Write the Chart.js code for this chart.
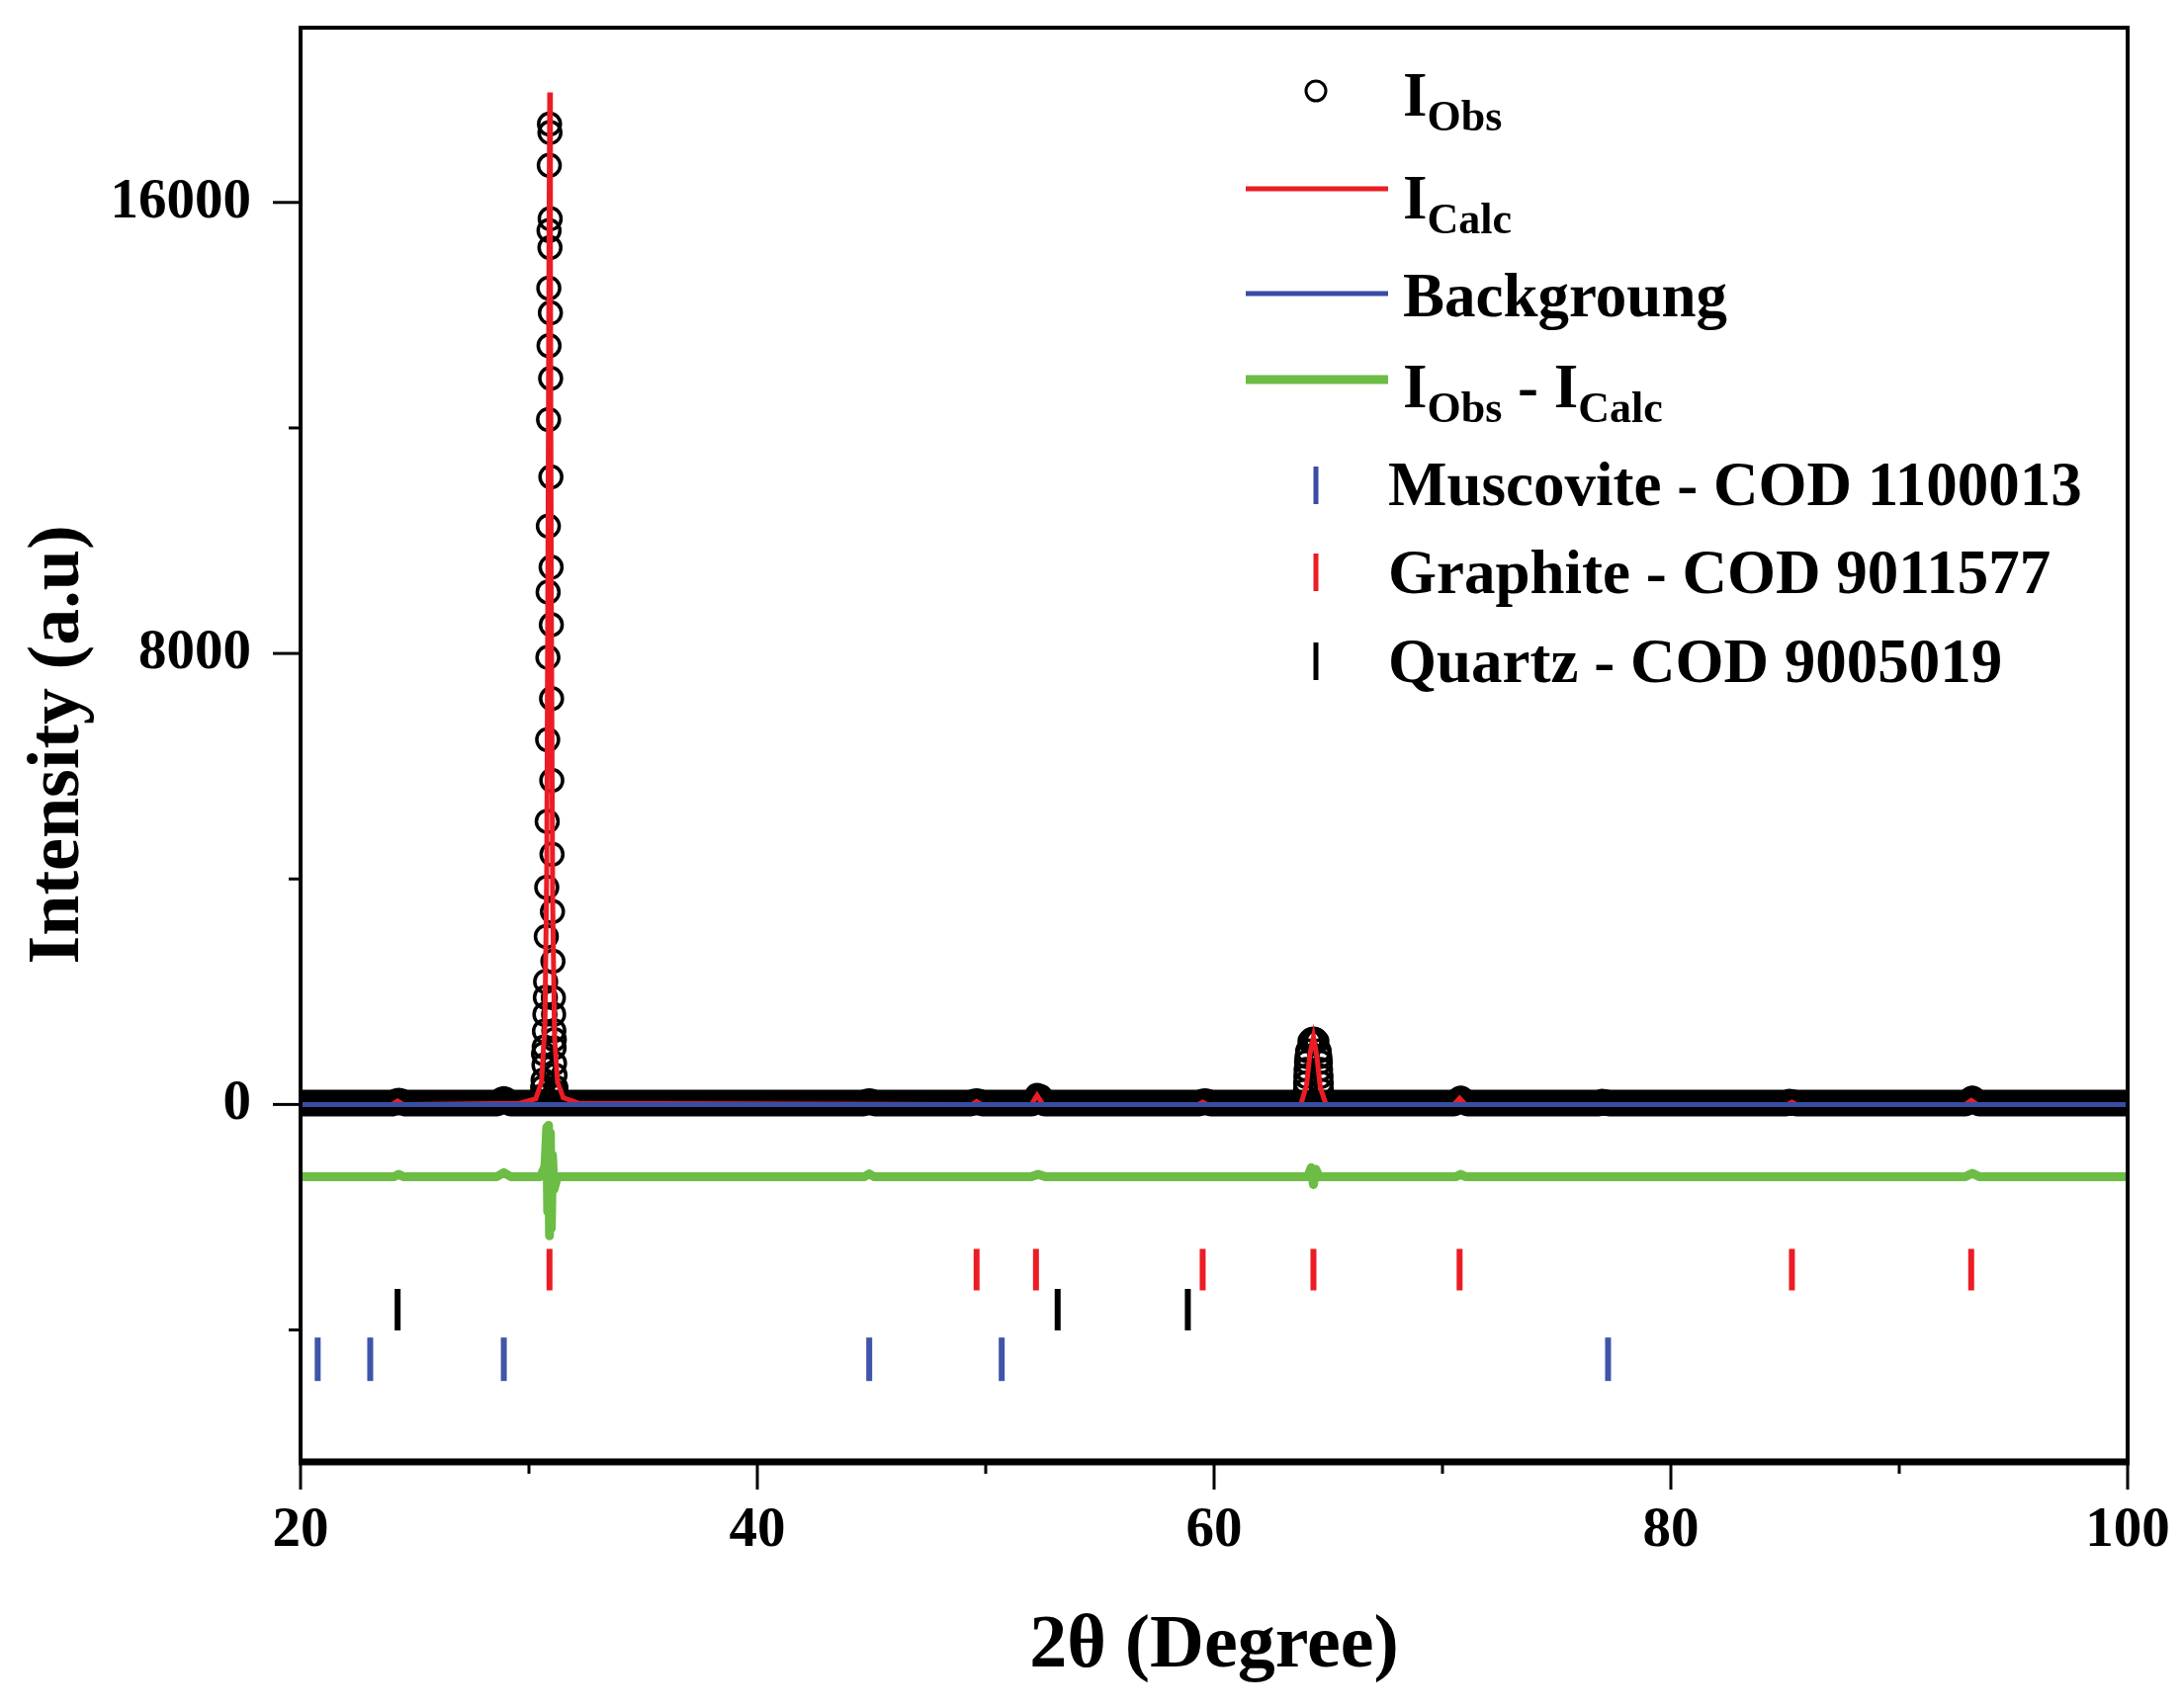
<!DOCTYPE html>
<html>
<head>
<meta charset="utf-8">
<script src="https://cdn.jsdelivr.net/npm/chart.js@4.4.1/dist/chart.umd.min.js"></script>
<style>
  html, body { margin: 0; padding: 0; background: #fff; }
  #wrap { width: 2208px; height: 1728px; }
</style>
</head>
<body>
<div id="wrap"><canvas id="xrd" width="2208" height="1728"></canvas></div>
<script>
// --- Data ---
const xTickValues = [20, 30, 40, 50, 60, 70, 80, 90, 100];
const xTickLabels = ['20', '', '40', '', '60', '', '80', '', '100'];
const yTickValues = [-4000, 0, 4000, 8000, 12000, 16000];
const yTickLabels = ['', '0', '', '8000', '', '16000'];

// observed points (circles) on the peaks
const obsTheta = [30.90, 30.92, 30.89, 30.93, 30.88, 30.92, 30.87, 30.94, 30.88, 30.95, 30.86, 30.96,
  30.85, 30.97, 30.84, 30.98, 30.83, 30.99, 30.82, 31.00, 30.80, 31.01, 30.78, 31.03, 30.76, 31.05,
  30.73, 31.07, 30.70, 31.09, 30.67, 31.12, 30.62, 31.16, 30.66, 31.10,
  30.60, 30.64, 30.68, 30.72, 31.08, 31.11, 31.14, 31.18, 30.58, 31.20,
  64.00, 64.02, 64.05, 64.10, 64.20, 64.35, 64.50, 64.60, 64.65, 64.68, 64.70,
  64.01, 64.03, 64.07, 64.63, 64.66, 64.69, 64.28, 64.42,
  52.25, 52.40, 70.80, 93.20];
const obsCounts = [17390, 17240, 16660, 15710, 15500, 15200, 14480, 14040, 13460, 12880, 12150, 11130,
  10260, 9530, 9090, 8510, 7930, 7200, 6470, 5750, 5020, 4440, 3850, 3420, 2980, 2540,
  2180, 1890, 1600, 1310, 1020, 730, 430, 220, 700, 1000,
  300, 900, 1300, 1900, 1600, 1150, 520, 300, 150, 150,
  250, 500, 750, 950, 1120, 1160, 1120, 950, 750, 500, 250,
  380, 620, 850, 850, 620, 380, 1150, 1150,
  160, 140, 110, 110];

// dense observed baseline (overlapping circles form a band)
const obsBaseTheta = [20, 24.0, 24.3, 24.6, 28.6, 28.9, 29.2, 44.6, 44.9, 45.2, 49.3, 49.6, 49.9,
  52.0, 52.3, 52.6, 59.3, 59.6, 59.9, 70.5, 70.8, 71.1, 76.8, 77.0, 77.3, 85.0, 85.2, 85.5,
  92.9, 93.2, 93.5, 100];
const obsBaseCounts = [25, 25, 60, 25, 25, 90, 25, 25, 50, 25, 25, 50, 25,
  25, 130, 25, 25, 50, 25, 25, 90, 25, 25, 40, 25, 25, 40, 25,
  25, 90, 25, 25];

// calculated profile
const calcTheta = [20, 24.0, 24.25, 24.5, 29.6, 30.3, 30.55, 30.7, 30.78, 30.84, 30.88, 30.91, 30.94,
  30.98, 31.04, 31.12, 31.25, 31.5, 32.2, 49.4, 49.6, 49.8, 52.0, 52.25, 52.5, 59.3, 59.5, 59.7,
  63.8, 64.05, 64.2, 64.35, 64.5, 64.65, 64.9, 70.5, 70.75, 71.0, 85.1, 85.3, 85.5, 92.9, 93.15, 93.4, 100];
const calcCounts = [0, 0, 60, 0, 20, 100, 400, 1400, 4200, 10500, 15500, 17950, 15000,
  9000, 3600, 1200, 400, 120, 20, 0, 50, 0, 0, 160, 0, 0, 40, 0,
  0, 350, 900, 1200, 850, 300, 0, 0, 110, 0, 0, 40, 0, 0, 70, 0, 0];

// background
const bgTheta = [20, 100];
const bgCounts = [0, 0];

// difference curve (shifted)
const diffTheta = [20, 24.1, 24.3, 24.5, 28.6, 28.9, 29.2, 30.5, 30.7, 30.78, 30.82, 30.86, 30.9,
  30.94, 30.98, 31.03, 31.1, 31.25, 44.7, 44.9, 45.1, 52.0, 52.3, 52.6, 64.1, 64.25, 64.35, 64.45, 64.6,
  70.6, 70.8, 71.0, 92.9, 93.2, 93.5, 100];
const diffCounts = [-1280, -1280, -1240, -1280, -1280, -1210, -1280, -1280, -1100, -400, -1900, -370, -2330,
  -500, -2200, -900, -1500, -1280, -1280, -1230, -1280, -1280, -1240, -1280, -1280, -1120, -1420, -1150, -1280,
  -1280, -1240, -1280, -1280, -1220, -1280, -1280];

// reflection positions of each phase
const graphiteTheta = [30.9, 49.6, 52.2, 59.5, 64.35, 70.75, 85.3, 93.15];
const quartzTheta = [24.25, 53.15, 58.85];
const muscoviteTheta = [20.75, 23.05, 28.9, 44.9, 50.7, 77.25];
const graphiteRow = -2930;
const quartzRow = -3640;
const muscoviteRow = -4520;

// --- helpers ---
const pairs = (xs, ys) => xs.map((v, i) => ({ x: v, y: ys[i] }));
const row = (xs, level) => xs.map(v => ({ x: v, y: level }));

const SERIF = '"Liberation Serif", "Times New Roman", serif';
const RED = '#ec1c24';
const BLUE = '#3a4ca3';
const GREEN = '#6cbd45';

// Frame, tick marks and the legend (with subscripts)
const decorations = {
  id: 'decorations',
  afterDraw(chart) {
    const { ctx, chartArea: a, scales: { x, y } } = chart;
    ctx.save();
    ctx.strokeStyle = '#000';
    ctx.lineCap = 'butt';

    // tick marks, outward
    ctx.lineWidth = 3;
    xTickValues.forEach((v, i) => {
      const px = x.getPixelForValue(v);
      const len = xTickLabels[i] ? 28 : 12;
      ctx.beginPath(); ctx.moveTo(px, a.bottom); ctx.lineTo(px, a.bottom + len); ctx.stroke();
    });
    yTickValues.forEach((v, i) => {
      const py = y.getPixelForValue(v);
      const len = yTickLabels[i] ? 28 : 12;
      ctx.beginPath(); ctx.moveTo(a.left, py); ctx.lineTo(a.left - len, py); ctx.stroke();
    });

    // frame
    ctx.lineWidth = 4;
    ctx.beginPath();
    ctx.moveTo(a.left, a.bottom); ctx.lineTo(a.left, a.top);
    ctx.lineTo(a.right, a.top); ctx.lineTo(a.right, a.bottom);
    ctx.stroke();
    ctx.lineWidth = 7;
    ctx.beginPath(); ctx.moveTo(a.left - 2, a.bottom); ctx.lineTo(a.right + 2, a.bottom); ctx.stroke();

    // legend
    const mainFont = `bold 63px ${SERIF}`;
    const subFont = `bold 44px ${SERIF}`;
    const rich = (px, base, parts) => {
      ctx.fillStyle = '#000';
      ctx.textBaseline = 'alphabetic';
      ctx.textAlign = 'left';
      parts.forEach(([t, sub]) => {
        ctx.font = sub ? subFont : mainFont;
        ctx.fillText(t, px, sub ? base + 15 : base);
        px += ctx.measureText(t).width;
      });
    };
    const seg = (color, w, yy) => {
      ctx.strokeStyle = color; ctx.lineWidth = w;
      ctx.beginPath(); ctx.moveTo(1260, yy); ctx.lineTo(1404, yy); ctx.stroke();
    };
    const tick = (color, yy) => {
      ctx.strokeStyle = color; ctx.lineWidth = 5;
      ctx.beginPath(); ctx.moveTo(1331, yy - 19); ctx.lineTo(1331, yy + 19); ctx.stroke();
    };

    ctx.strokeStyle = '#000'; ctx.lineWidth = 3;
    ctx.beginPath(); ctx.arc(1331, 92, 10, 0, Math.PI * 2); ctx.stroke();
    rich(1419, 117, [['I', false], ['Obs', true]]);

    seg(RED, 5, 191);
    rich(1419, 221, [['I', false], ['Calc', true]]);

    seg(BLUE, 5, 297);
    rich(1419, 320, [['Backgroung', false]]);

    seg(GREEN, 9, 384);
    rich(1419, 412, [['I', false], ['Obs', true], [' - ', false], ['I', false], ['Calc', true]]);

    tick(BLUE, 491);
    rich(1404, 511, [['Muscovite - COD 1100013', false]]);
    tick(RED, 579);
    rich(1404, 600, [['Graphite - COD 9011577', false]]);
    tick('#000', 669);
    rich(1404, 690, [['Quartz - COD 9005019', false]]);

    ctx.restore();
  }
};

const tickFont = { family: SERIF, weight: 'bold', size: 57 };
const noPad = s => { s.paddingTop = 0; s.paddingBottom = 0; s.paddingLeft = 0; s.paddingRight = 0; };

new Chart(document.getElementById('xrd'), {
  type: 'scatter',
  data: {
    datasets: [
      { label: 'Backgroung', data: pairs(bgTheta, bgCounts), showLine: true,
        borderColor: BLUE, borderWidth: 5, pointRadius: 0, order: 0 },
      { label: 'ICalc', data: pairs(calcTheta, calcCounts), showLine: true,
        borderColor: RED, borderWidth: 5, pointRadius: 0, order: 1 },
      { label: 'IObs', data: pairs(obsTheta, obsCounts), showLine: false,
        pointStyle: 'circle', pointRadius: 11, pointBorderWidth: 3.5,
        pointBorderColor: '#000', pointBackgroundColor: 'rgba(0,0,0,0)', order: 2 },
      { label: 'IObs band', data: pairs(obsBaseTheta, obsBaseCounts), showLine: true,
        borderColor: '#000', borderWidth: 27, borderJoinStyle: 'round', pointRadius: 0, order: 3 },
      { label: 'IObs - ICalc', data: pairs(diffTheta, diffCounts), showLine: true,
        borderColor: GREEN, borderWidth: 9, borderJoinStyle: 'round', pointRadius: 0, order: 4 },
      { label: 'Graphite', data: row(graphiteTheta, graphiteRow), pointStyle: 'line', rotation: 90,
        pointRadius: 21, pointBorderWidth: 6, pointBorderColor: RED, order: 5 },
      { label: 'Quartz', data: row(quartzTheta, quartzRow), pointStyle: 'line', rotation: 90,
        pointRadius: 21, pointBorderWidth: 6, pointBorderColor: '#000', order: 5 },
      { label: 'Muscovite', data: row(muscoviteTheta, muscoviteRow), pointStyle: 'line', rotation: 90,
        pointRadius: 22, pointBorderWidth: 6, pointBorderColor: '#3f55a8', order: 5 }
    ]
  },
  options: {
    responsive: false,
    devicePixelRatio: 1,
    animation: false,
    events: [],
    layout: { padding: { top: 27, right: 56, left: 0, bottom: 0 } },
    plugins: { legend: { display: false }, tooltip: { enabled: false } },
    scales: {
      x: {
        type: 'linear', min: 20, max: 100,
        afterBuildTicks: s => { s.ticks = xTickValues.map(v => ({ value: v })); },
        afterFit: s => { s.height = 249; noPad(s); },
        grid: { display: false, drawTicks: false },
        border: { display: false },
        ticks: {
          autoSkip: false, maxRotation: 0, padding: 36, color: '#000', font: tickFont,
          callback: v => xTickLabels[xTickValues.indexOf(v)]
        },
        title: { display: true, text: '2θ (Degree)', color: '#000',
          font: { family: SERIF, weight: 'bold', size: 76 }, padding: { top: 0, bottom: 16 } }
      },
      y: {
        type: 'linear', min: -6340, max: 19100,
        afterBuildTicks: s => { s.ticks = yTickValues.map(v => ({ value: v })); },
        afterFit: s => { s.width = 304; noPad(s); },
        grid: { display: false, drawTicks: false },
        border: { display: false },
        ticks: {
          autoSkip: false, padding: 50, color: '#000', font: tickFont,
          callback: v => yTickLabels[yTickValues.indexOf(v)]
        },
        title: { display: true, text: 'Intensity (a.u)', color: '#000',
          font: { family: SERIF, weight: 'bold', size: 74 }, padding: { top: 15, bottom: 0 } }
      }
    }
  },
  plugins: [decorations]
});
</script>
</body>
</html>
